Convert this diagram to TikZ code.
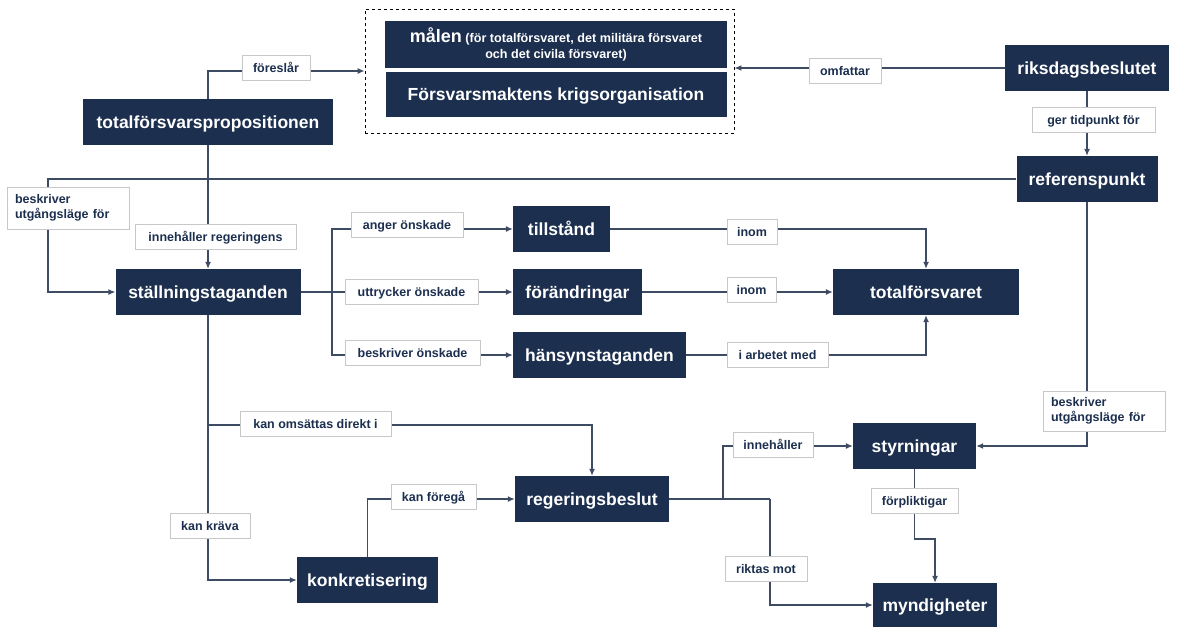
\documentclass[tikz,border=0pt]{standalone}
\usepackage{fontspec}
\setmainfont{Liberation Sans}
\usetikzlibrary{arrows.meta}
\definecolor{navy}{HTML}{1C2F4F}
\definecolor{linje}{HTML}{3E4C63}
\definecolor{kant}{HTML}{C8C8C8}

\begin{document}
\begin{tikzpicture}[x=1pt,y=-1pt,
	box/.style={fill=navy,text=white,font=\fontsize{17.5}{20}\selectfont\bfseries,minimum height=46pt,inner sep=0pt,text height=12.5pt,text depth=0pt},
	lbl/.style={fill=white,draw=kant,line width=0.8pt,text=navy,font=\fontsize{12.5}{15}\selectfont\bfseries,minimum height=25pt,inner sep=0pt,text height=9pt,text depth=0pt},
	pil/.style={draw=linje,line width=1.2pt,-{Latex[length=7pt,width=6pt]}},
	lin/.style={draw=linje,line width=1.2pt}]
				\useasboundingbox (0,0) rectangle (1177,626);
				\node[draw=black,dashed,line width=0.9pt,minimum width=369pt,minimum height=124pt] (ram) at (549.5,71) {};
				\node[box,minimum width=342pt,align=center,text height={},text depth={},font=\fontsize{12.6}{16}\selectfont\bfseries] (mal) at (556,44.5) {{\fontsize{18}{18}\selectfont målen} (för totalförsvaret, det militära försvaret\\och det civila försvaret)};
				\node[box,minimum width=341pt,minimum height=45pt] (krig) at (556,94.5) {Försvarsmaktens krigsorganisation};
				\node[box,minimum width=250pt] (prop) at (208,122) {totalförsvarspropositionen};
				\node[box,minimum width=164pt] (riks) at (1087,68) {riksdagsbeslutet};
				\node[box,minimum width=141pt] (ref) at (1087,179) {referenspunkt};
				\node[box,minimum width=185pt] (stall) at (208,292) {ställningstaganden};
				\node[box,minimum width=97pt] (till) at (561.5,229) {tillstånd};
				\node[box,minimum width=129pt] (forand) at (577.5,292) {förändringar};
				\node[box,minimum width=173pt] (hans) at (599.5,355) {hänsynstaganden};
				\node[box,minimum width=186pt] (totf) at (926,292) {totalförsvaret};
				\node[box,minimum width=141pt] (konkr) at (367.5,580) {konkretisering};
				\node[box,minimum width=154pt] (regb) at (592,499) {regeringsbeslut};
				\node[box,minimum width=123pt] (styr) at (914.5,446) {styrningar};
				\node[box,minimum width=124pt,minimum height=44pt] (mynd) at (935,605) {myndigheter};
				\coordinate (vk) at (48,179);
				\coordinate (gren1) at (332,292);
				\coordinate (gren2) at (723,499);
				\coordinate (gren3) at (770,499);
				\coordinate (knä) at (914.5,539);
				\draw[pil] (prop.north) |- (ram.west);
				\draw[pil] (riks.west) -- (ram.east |- riks.west);
				\draw[pil] (riks.south) -- (ref.north);
				\draw[pil] (ref.west) -- (vk) |- (stall.west);
				\draw[pil] (prop.south) -- (stall.north);
				\draw[lin] (stall.east) -- (gren1);
				\draw[pil] (gren1) |- (till.west);
				\draw[pil] (gren1) -- (forand.west);
				\draw[pil] (gren1) |- (hans.west);
				\draw[pil] (till.east) -| (totf.north);
				\draw[pil] (forand.east) -- (totf.west);
				\draw[pil] (hans.east) -| (totf.south);
				\draw[pil] (stall.south) |- (konkr.west);
				\draw[pil] (stall.south) -- (208,425) -| (regb.north);
				\draw[pil] (konkr.north) |- (regb.west);
				\draw[lin] (regb.east) -- (gren3);
				\draw[pil] (gren2) |- (styr.west);
				\draw[pil] (gren3) |- (mynd.west);
				\draw[pil] (styr.south) -- (knä) -| (mynd.north);
				\draw[pil] (ref.south) |- (styr.east);
				\node[lbl,minimum width=68pt] (l1) at (276,68) {föreslår};
				\node[lbl,minimum width=72pt] (l2) at (845,70.5) {omfattar};
				\node[lbl,minimum width=123pt] (l3) at (1093.5,119.5) {ger tidpunkt för};
				\node[lbl,minimum width=122pt,minimum height=42pt,text width=106pt,align=left,text height={},text depth={}] (l4) at (68,208) {beskriver\\utgångsläge för};
				\node[lbl,minimum width=161pt] (l5) at (215.5,236.5) {innehåller regeringens};
				\node[lbl,minimum width=112pt] (l6) at (407,225) {anger önskade};
				\node[lbl,minimum width=133pt] (l7) at (411.5,291.5) {uttrycker önskade};
				\node[lbl,minimum width=135pt] (l8) at (412.5,353) {beskriver önskade};
				\node[lbl,minimum width=50pt] (l9) at (752,231.5) {inom};
				\node[lbl,minimum width=49pt] (l10) at (751.5,290) {inom};
				\node[lbl,minimum width=101pt] (l11) at (777.5,354.5) {i arbetet med};
				\node[lbl,minimum width=151pt] (l12) at (315.5,424) {kan omsättas direkt i};
				\node[lbl,minimum width=85pt] (l13) at (433.5,496.5) {kan föregå};
				\node[lbl,minimum width=80pt] (l14) at (210,525.5) {kan kräva};
				\node[lbl,minimum width=80pt] (l15) at (773,444.5) {innehåller};
				\node[lbl,minimum width=82pt] (l16) at (766,568.5) {riktas mot};
				\node[lbl,minimum width=87pt] (l17) at (914.5,500.5) {förpliktigar};
				\node[lbl,minimum width=122pt,minimum height=40pt,text width=106pt,align=left,text height={},text depth={}] (l18) at (1104,411) {beskriver\\utgångsläge för};
			\end{tikzpicture}
\end{document}
